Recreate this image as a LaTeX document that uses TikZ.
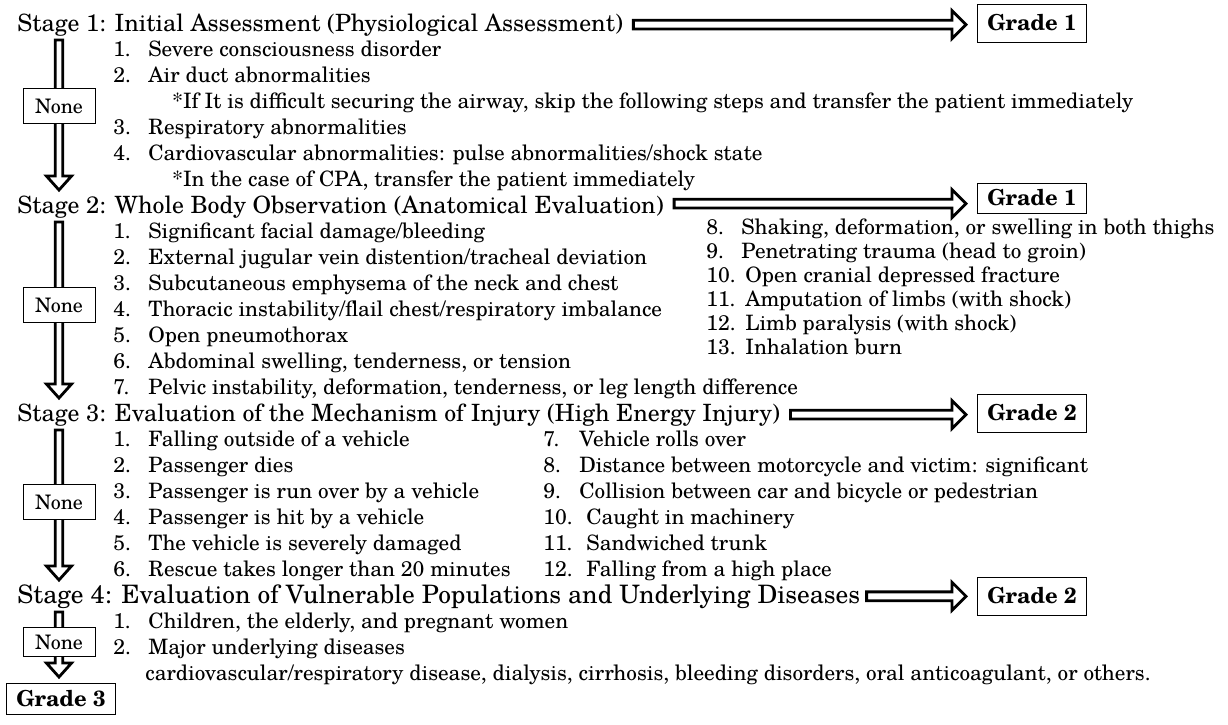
\documentclass[tikz,border=0pt]{standalone}
\usepackage{fontspec}
\setmainfont{texgyreschola}[Extension=.otf, UprightFont=*-regular, BoldFont=*-bold, ItalicFont=*-italic, BoldItalicFont=*-bolditalic]
\usetikzlibrary{calc,positioning}

\newcommand{\nb}[2][17.5pt]{\makebox[#1][l]{#2}}

\tikzset{
  stagetitle/.style={anchor=base west, inner sep=0pt, font=\fontsize{11.9}{13}\selectfont},
  itemtext/.style={anchor=base west, inner sep=0pt, font=\fontsize{10.6}{12}\selectfont},
  gradebox/.style={draw, line width=0.5pt, minimum width=54.5pt, minimum height=19pt, inner sep=0pt, font=\fontsize{11}{12}\selectfont\bfseries},
  nonebox/.style={draw, fill=white, line width=0.5pt, minimum width=36pt, minimum height=17.5pt, inner sep=0pt, font=\fontsize{10}{11}\selectfont},
  hollow/.style={draw, line width=1.4pt, to path={let \p1=(\tikztostart), \p2=(\tikztotarget) in
      (\x1,\y1+2.2pt) -- (\x2-7pt,\y1+2.2pt) -- (\x2-7pt,\y1+7pt) -- (\x2,\y1)
      -- (\x2-7pt,\y1-7pt) -- (\x2-7pt,\y1-2.2pt) -- (\x1,\y1-2.2pt) -- cycle}},
  hollowdown/.style={draw, line width=1.4pt, to path={let \p1=(\tikztostart), \p2=(\tikztotarget) in
      (\x1-1.9pt,\y1) -- (\x1-1.9pt,\y2+7pt) -- (\x1-6.3pt,\y2+7pt) -- (\x1,\y2)
      -- (\x1+6.3pt,\y2+7pt) -- (\x1+1.9pt,\y2+7pt) -- (\x1+1.9pt,\y1) -- cycle}}
}

\begin{document}
\begin{tikzpicture}[x=0.5pt, y=-0.5pt]
  \useasboundingbox (0,0) rectangle (1228,724);

  % stage headings
  \node[stagetitle] (s1) at (17,31) {Stage 1: Initial Assessment (Physiological Assessment)};
  \node[stagetitle] (s2) at (17,213) {Stage 2: Whole Body Observation (Anatomical Evaluation)};
  \node[stagetitle] (s3) at (17,421) {Stage 3: Evaluation of the Mechanism of Injury (High Energy Injury)};
  \node[stagetitle, font=\fontsize{12.7}{13}\selectfont] (s4) at (17,603) {Stage 4: Evaluation of Vulnerable Populations and Underlying Diseases};

  % grades
  \node[gradebox] (g1) at (1032,23) {Grade 1};
  \node[gradebox, minimum height=15pt] (g2) at (1032,198) {Grade 1};
  \node[gradebox] (g3) at (1032,413) {Grade 2};
  \node[gradebox] (g4) at (1032,596) {Grade 2};
  \node[gradebox, minimum height=15.5pt] (g5) at (61,699) {Grade 3};

  % stage 1
  \node[itemtext] (a1) at (113,56) {\nb{1.}Severe consciousness disorder};
  \node[itemtext] (a2) at (113,82) {\nb{2.}Air duct abnormalities};
  \node[itemtext] (a2n) at (172,108) {*If It is difficult securing the airway, skip the following steps and transfer the patient immediately};
  \node[itemtext] (a3) at (113,134) {\nb{3.}Respiratory abnormalities};
  \node[itemtext] (a4) at (113,160) {\nb{4.}Cardiovascular abnormalities: pulse abnormalities/shock state};
  \node[itemtext] (a4n) at (172,186) {*In the case of CPA, transfer the patient immediately};

  % stage 2
  \foreach \t [count=\i] in {Significant facial damage/bleeding,
      External jugular vein distention/tracheal deviation,
      Subcutaneous emphysema of the neck and chest,
      Thoracic instability/flail chest/respiratory imbalance,
      Open pneumothorax,
      {Abdominal swelling, tenderness, or tension},
      {Pelvic instability, deformation, tenderness, or leg length difference}}
    \node[itemtext] (b\i) at (113,{212+26*\i}) {\nb{\i.}\t};
  \foreach \t [count=\i from 8] in {{Shaking, deformation, or swelling in both thighs},
      Penetrating trauma (head to groin),
      Open cranial depressed fracture,
      Amputation of limbs (with shock),
      Limb paralysis (with shock),
      Inhalation burn}
    \node[itemtext] (b\i) at (706,{234+24*(\i-8)}) {\ifnum\i<10 \nb{\i.}\else\nb[19.5pt]{\i.}\fi\t};

  % stage 3
  \foreach \t [count=\i] in {Falling outside of a vehicle,
      Passenger dies,
      Passenger is run over by a vehicle,
      Passenger is hit by a vehicle,
      The vehicle is severely damaged,
      Rescue takes longer than 20 minutes}
    \node[itemtext] (c\i) at (113,{420+26*\i}) {\nb{\i.}\t};
  \foreach \t [count=\i from 7] in {Vehicle rolls over,
      Distance between motorcycle and victim: significant,
      Collision between car and bicycle or pedestrian,
      Caught in machinery,
      Sandwiched trunk,
      Falling from a high place}
    \node[itemtext] (c\i) at (543,{420+26*(\i-6)}) {\ifnum\i<10 \nb[18pt]{\i.}\else\nb[21.5pt]{\i.}\fi\t};

  % stage 4
  \node[itemtext] (d1) at (113,628) {\nb{1.}Children, the elderly, and pregnant women};
  \node[itemtext] (d2) at (113,654) {\nb{2.}Major underlying diseases};
  \node[itemtext] (d2n) at (145,680) {cardiovascular/respiratory disease, dialysis, cirrhosis, bleeding disorders, oral anticoagulant, or others.};

  % arrows to the grades
  \draw[hollow] ($(s1.east)+(10,0)$) to ($(g1.west)+(-11,0)$);
  \draw[hollow] ($(s2.east)+(10,-3)$) to ($(g2.west)+(-11,0)$);
  \draw[hollow] ($(s3.east)+(10,0)$) to ($(g3.west)+(-11,0)$);
  \draw[hollow] ($(s4.east)+(6,0)$) to ($(g4.west)+(-11,0)$);

  % down arrows with "None"
  \foreach \k/\ya/\yb/\yn/\h in {1/40/190/106/17.5pt, 2/222/398/305/17.5pt, 3/430/580/502/17.5pt, 4/612/677/642/14.5pt} {
    \coordinate (v\k) at (59,\ya);
    \coordinate (w\k) at (59,\yb);
    \draw[hollowdown] (v\k) to (w\k);
    \node[nonebox, minimum height=\h] (n\k) at (59,\yn) {None};
  }
\end{tikzpicture}
\end{document}
